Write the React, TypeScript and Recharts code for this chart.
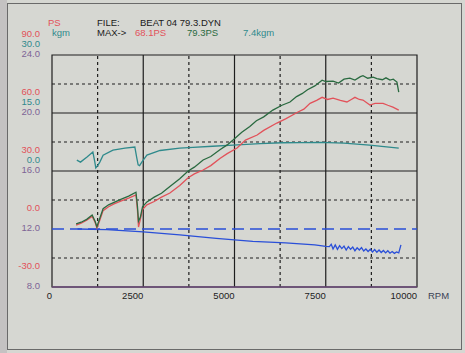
import React from "react";
import { LineChart, Line, XAxis, YAxis, ReferenceLine, ReferenceArea } from "recharts";

// ---- data ----
const rpmTicks = [0, 2500, 5000, 7500, 10000];
const rpmSolid = [2500, 5000, 7500];
const rpmDashed = [1250, 3750, 6250, 8750];
const psTicks = [-30, 0, 30, 60, 90];
const psSolid = [30, 60];
const psDashed = [-15, 15, 45, 75];
const kgmTicks = [0, 15, 30];
const afrTicks = [8, 12, 16, 20, 24];
const afrTarget = 12;

const greenRpm = [660, 800, 950, 1100, 1180, 1230, 1300, 1400, 1550, 1700, 1900, 2100, 2300, 2340, 2370, 2420, 2480, 2600, 2800, 3000, 3230, 3500, 3730, 3900, 4140, 4350, 4600, 4800, 4960, 5200, 5420, 5600, 5800, 6050, 6300, 6520, 6700, 6850, 7000, 7200, 7400, 7500, 7700, 7850, 8000, 8160, 8300, 8450, 8520, 8650, 8800, 8900, 9050, 9150, 9260, 9350, 9450, 9500];
const greenPs = [2.6, 3.5, 5, 7.2, 4, 1.2, 5, 10.5, 12.5, 13.8, 15.5, 17, 19, 12, 4, 6, 11.5, 14, 16.5, 18.5, 22, 26, 30, 32, 35.7, 37.5, 41, 43.5, 46, 50, 53, 56, 58, 61.5, 64, 65.7, 68.5, 70, 72, 74, 77, 76.3, 76.5, 75.5, 77.5, 78, 77, 78.8, 79.3, 78, 78.5, 77.8, 77.2, 78.2, 77, 77.5, 76, 70.8];

const redRpm = [660, 800, 950, 1100, 1180, 1230, 1300, 1400, 1550, 1700, 1900, 2100, 2300, 2340, 2370, 2420, 2480, 2600, 2800, 3000, 3230, 3500, 3730, 3900, 4140, 4350, 4600, 4800, 5070, 5300, 5620, 5800, 6160, 6400, 6740, 6900, 7070, 7250, 7400, 7550, 7700, 7900, 8080, 8200, 8300, 8420, 8520, 8710, 8850, 9070, 9200, 9340, 9500];
const redPs = [2, 3, 4.5, 6.5, 3.5, 0.5, 4, 9.5, 11.5, 13, 14.5, 16, 17.6, 10, 1, 5, 10, 12.5, 14.2, 16.5, 18.6, 22.5, 26.5, 28.5, 30.5, 32.8, 36.5, 39, 41.9, 46, 48.6, 51, 54.8, 57, 60.5, 62, 65, 66.5, 68.1, 67, 67.7, 66.5, 65.7, 67, 68.1, 67, 66.7, 64.1, 65, 65, 64, 63, 61.5];

const tealRpm = [680, 780, 960, 1120, 1170, 1200, 1260, 1310, 1400, 1670, 2000, 2270, 2320, 2360, 2400, 2460, 2600, 2960, 3500, 3860, 4400, 4960, 5700, 6300, 6800, 7340, 8000, 8700, 9100, 9500];
const tealKgm = [2.8, 2.3, 3.6, 4.9, 2.5, 0.8, 1.5, 2.3, 4.1, 5.4, 5.9, 6.2, 3.5, 1.6, 1.4, 2.3, 4.1, 5.3, 5.9, 6.1, 6.4, 6.7, 7.1, 7.3, 7.35, 7.4, 7.2, 6.7, 6.3, 5.9];

const blueRpm = [700, 1500, 2500, 3500, 4500, 5500, 6400, 7200, 7500, 7600, 7650, 7700, 7760, 7820, 7880, 7940, 8000, 8060, 8120, 8180, 8240, 8300, 8360, 8420, 8480, 8540, 8600, 8660, 8720, 8780, 8840, 8900, 8960, 9020, 9080, 9140, 9200, 9260, 9320, 9380, 9440, 9500, 9560];
const blueAfr = [12.0, 11.95, 11.8, 11.6, 11.35, 11.15, 11.05, 10.9, 10.8, 10.78, 10.95, 10.62, 10.9, 10.6, 10.85, 10.65, 10.82, 10.55, 10.78, 10.6, 10.75, 10.5, 10.7, 10.55, 10.72, 10.48, 10.62, 10.45, 10.6, 10.42, 10.58, 10.4, 10.55, 10.38, 10.52, 10.35, 10.5, 10.33, 10.45, 10.32, 10.42, 10.35, 10.9];

const zip = (xs: number[], ys: number[], key: string) => xs.map((x, i) => ({ rpm: x, [key]: ys[i] }));
const greenData = zip(greenRpm, greenPs, "v");
const redData = zip(redRpm, redPs, "v");
const tealData = zip(tealRpm, tealKgm, "v");
const blueData = zip(blueRpm, blueAfr, "v");

// ---- styles ----
const FONT = "'Liberation Sans', Arial, sans-serif";
const FS = 9.5;
const RED = "#e2525a";
const GREEN = "#2a6a40";
const TEAL = "#2f8a8c";
const BLUE = "#2a4fd8";
const PURPLE = "#7e6496";
const GRID = "#1e1e1e";
const BG = "#d6d7d2";
const LABEL_RIGHT = 40;

const makeYTick = (color: string, dy: number) => (props: any) => {
  const { y, payload } = props;
  return (
    <text x={LABEL_RIGHT} y={y + dy} dy="0.35em" textAnchor="end" fill={color} fontFamily={FONT} fontSize={FS}>
      {Number(payload.value).toFixed(1)}
    </text>
  );
};

const XTick = (props: any) => {
  const { x, y, payload } = props;
  return (
    <text x={x} y={y + 1} dy="0.35em" textAnchor="end" fill="#222" fontFamily={FONT} fontSize={FS}>
      {payload.value}
    </text>
  );
};

const Txt = ({ x, y, color, children }: any) => (
  <span
    style={{
      position: "absolute",
      left: x,
      top: y,
      transform: "translateY(-50%)",
      color,
      fontFamily: FONT,
      fontSize: FS,
      lineHeight: 1,
      whiteSpace: "pre",
    }}
  >
    {children}
  </span>
);

export default function App() {
  return (
    <div style={{ position: "absolute", left: 0, top: 0, width: 465, height: 353, background: BG, overflow: "hidden" }}>
      <div style={{ position: "absolute", left: 0, top: 0, width: 7, height: 353, background: "#c4c2c2" }} />
      <div style={{ position: "absolute", left: 7, top: 3, width: 453, height: 345, border: "1px solid #6a6a6a" }} />
      <div style={{ position: "absolute", left: 0, top: 0 }}>
        <LineChart width={465} height={353} margin={{ top: 55, right: 48, left: 0, bottom: 46 }}>
          <XAxis
            xAxisId="x"
            type="number"
            dataKey="rpm"
            domain={[0, 10000]}
            ticks={rpmTicks}
            interval={0}
            allowDataOverflow
            axisLine={false}
            tickLine={false}
            height={20}
            tick={<XTick />}
          />
          <YAxis yAxisId="ps" type="number" domain={[-30, 90]} ticks={psTicks} interval={0} allowDataOverflow width={18} axisLine={false} tickLine={false} tick={makeYTick(RED, -21)} />
          <YAxis yAxisId="kgm" type="number" domain={[-30, 30]} ticks={kgmTicks} interval={0} allowDataOverflow width={17} axisLine={false} tickLine={false} tick={makeYTick(TEAL, -11)} />
          <YAxis yAxisId="afr" type="number" domain={[8, 24]} ticks={afrTicks} interval={0} allowDataOverflow width={17} axisLine={false} tickLine={false} tick={makeYTick(PURPLE, -1)} />

          {psDashed.map((v) => (
            <ReferenceLine key={"hd" + v} xAxisId="x" yAxisId="ps" y={v} stroke={GRID} strokeWidth={1.2} strokeDasharray="3 3" />
          ))}
          {rpmDashed.map((v) => (
            <ReferenceLine key={"vd" + v} xAxisId="x" yAxisId="ps" x={v} stroke={GRID} strokeWidth={1.2} strokeDasharray="3 3" />
          ))}
          {psSolid.map((v) => (
            <ReferenceLine key={"hs" + v} xAxisId="x" yAxisId="ps" y={v} stroke={GRID} strokeWidth={1.2} />
          ))}
          {rpmSolid.map((v) => (
            <ReferenceLine key={"vs" + v} xAxisId="x" yAxisId="ps" x={v} stroke={GRID} strokeWidth={1.2} />
          ))}
          <ReferenceArea xAxisId="x" yAxisId="ps" x1={0} x2={10000} y1={-30} y2={90} fill="none" fillOpacity={0} stroke={GRID} strokeWidth={1.2} />
          <ReferenceLine xAxisId="x" yAxisId="ps" y={-30} stroke="#6b4a78" strokeWidth={1.3} />
          <ReferenceLine xAxisId="x" yAxisId="afr" y={afrTarget} stroke={BLUE} strokeWidth={1.6} strokeDasharray="12 6" />

          <Line xAxisId="x" yAxisId="afr" data={blueData} dataKey="v" stroke={BLUE} strokeWidth={1.3} dot={false} isAnimationActive={false} type="linear" />
          <Line xAxisId="x" yAxisId="kgm" data={tealData} dataKey="v" stroke={TEAL} strokeWidth={1.3} dot={false} isAnimationActive={false} type="linear" />
          <Line xAxisId="x" yAxisId="ps" data={redData} dataKey="v" stroke={RED} strokeWidth={1.3} dot={false} isAnimationActive={false} type="linear" />
          <Line xAxisId="x" yAxisId="ps" data={greenData} dataKey="v" stroke={GREEN} strokeWidth={1.3} dot={false} isAnimationActive={false} type="linear" />
        </LineChart>
      </div>
      <Txt x={48} y={23} color={RED}>PS</Txt>
      <Txt x={97} y={23} color="#1a1a1a">FILE:</Txt>
      <Txt x={140} y={23} color="#1a1a1a">BEAT 04 79.3.DYN</Txt>
      <Txt x={52} y={33} color={TEAL}>kgm</Txt>
      <Txt x={97} y={33} color="#1a1a1a">{"MAX->"}</Txt>
      <Txt x={135} y={33} color={RED}>68.1PS</Txt>
      <Txt x={187} y={33} color={GREEN}>79.3PS</Txt>
      <Txt x={243} y={33} color={TEAL}>7.4kgm</Txt>
      <Txt x={428} y={296} color="#3a3f55">RPM</Txt>
    </div>
  );
}
